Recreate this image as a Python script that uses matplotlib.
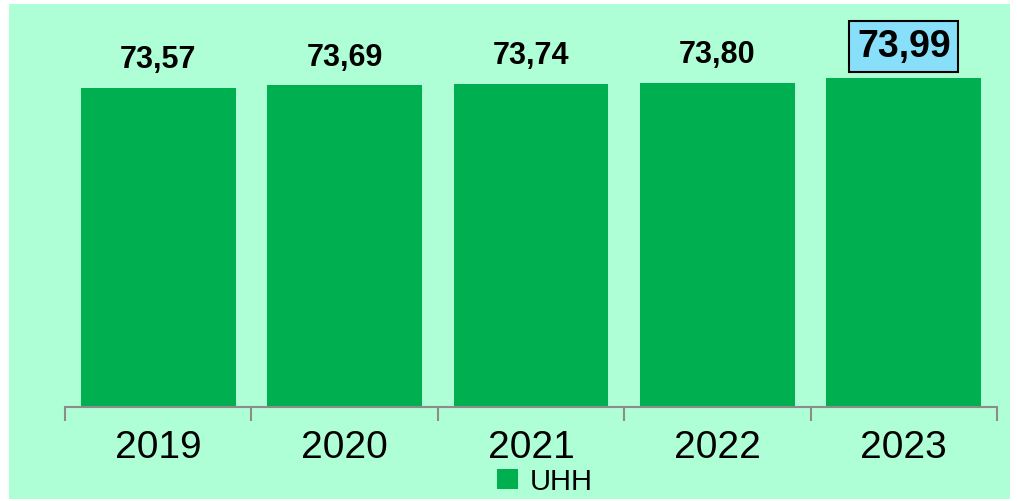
import matplotlib.pyplot as plt
import numpy as np
from matplotlib import font_manager
from matplotlib.patches import Rectangle

years = ["2019", "2020", "2021", "2022", "2023"]
uhh = [73.57, 73.69, 73.74, 73.80, 73.99]
labels = ["73,57", "73,69", "73,74", "73,80", "73,99"]

# narrow font if there is one, otherwise Liberation Sans
fam = "Liberation Sans"
narrow = False
for f in ["Liberation Sans Narrow", "Arial Narrow"]:
    try:
        font_manager.findfont(f, fallback_to_default=False)
        fam = f
        narrow = True
        break
    except ValueError:
        pass
plt.rcParams['font.family'] = [fam, 'DejaVu Sans']

year_fs = 32 if narrow else 28
lab_fs = 25 if narrow else 22
box_fs = 31 if narrow else 27

bg = "#AFFFD6"
W, H = 1017, 502
fig = plt.figure(figsize=(W / 100, H / 100), dpi=100)
fig.patch.set_facecolor("white")
# mint panel
fig.patches.append(Rectangle((9 / W, 2 / H), 1001 / W, 495 / H, transform=fig.transFigure,
                             facecolor=bg, edgecolor="none", zorder=-10))

ax = fig.add_axes([65 / W, (H - 408) / H, 932 / W, 388 / H])
ax.set_facecolor("none")
x = np.arange(len(years))
bars = ax.bar(x, [v - 60 for v in uhh], bottom=60, width=0.83, color="#00B050", label="UHH")
ax.set_xlim(-0.5, len(years) - 0.5)
ax.set_ylim(60, 60 + 388 / 23.49)

for s in ["top", "right", "left"]:
    ax.spines[s].set_visible(False)
ax.spines["bottom"].set_color("#8C8C8C")
ax.spines["bottom"].set_linewidth(1.5)
ax.set_yticks([])
ax.set_xticks(x)
ax.set_xticklabels(years, fontsize=year_fs)
ax.tick_params(axis="x", which="major", length=0, pad=16)
ax.set_xticks(np.arange(-0.5, len(years)), minor=True)
ax.tick_params(axis="x", which="minor", length=10, width=1.5, color="#8C8C8C")

for i, (v, t) in enumerate(zip(uhh, labels)):
    if i == len(uhh) - 1:
        ax.annotate(t, (i, v), xytext=(0, 16), textcoords="offset points",
                    ha="center", va="baseline", fontsize=box_fs, fontweight="bold",
                    bbox=dict(boxstyle="square,pad=0.2", facecolor="#87DFFA",
                              edgecolor="black", linewidth=1.5))
    else:
        ax.annotate(t, (i, v), xytext=(0, 15), textcoords="offset points",
                    ha="center", va="baseline", fontsize=lab_fs, fontweight="bold")

fig.legend(handles=[bars[0]], labels=["UHH"], loc="center", bbox_to_anchor=(545 / W, (H - 482) / H),
           frameon=False, fontsize=21, handlelength=0.7, handleheight=0.7, handletextpad=0.4,
           borderpad=0, borderaxespad=0)

fig.savefig("out.png", dpi=100, facecolor=fig.get_facecolor())
